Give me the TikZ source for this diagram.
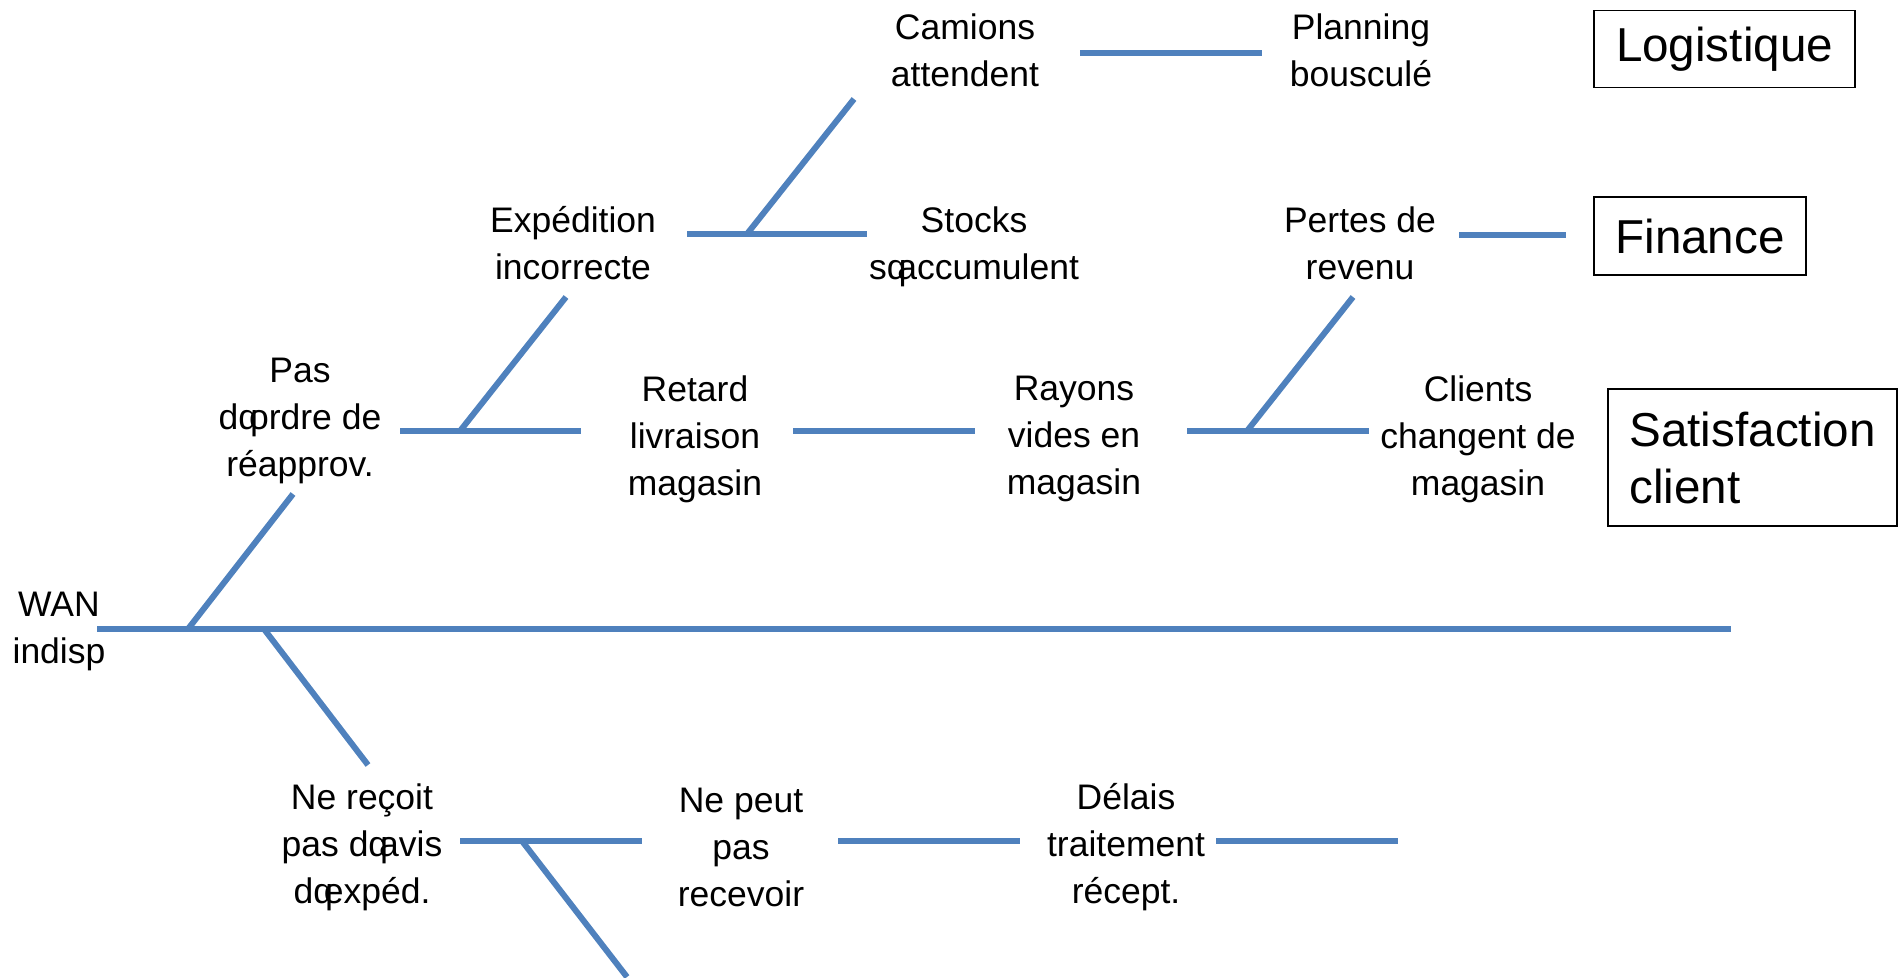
\documentclass[tikz,border=0pt]{standalone}
\usepackage{fontspec}
\setmainfont{Liberation Sans}
\definecolor{boneblue}{HTML}{4F81BD}
\usetikzlibrary{positioning}
% the broken apostrophe glyph of the source
\newcommand{\badq}{\makebox[0.3em][l]{q}}

\begin{document}
\begin{tikzpicture}[x=0.5pt, y=-0.5pt,
  bone/.style={line width=3pt, boneblue},
  cause/.style={align=center, inner sep=0pt, font=\fontsize{17.75}{23.5}\selectfont},
  effect/.style={draw, line width=0.8pt, inner sep=0pt, font=\fontsize{23.8}{28.5}\selectfont}]
  \useasboundingbox (0,0) rectangle (1899,978);

  % causes
  \node[cause] (wan) at (59,631) {WAN\\indisp};
  \node[cause] (pas) at (300,421) {Pas\\d\badq ordre de\\réapprov.};
  \node[cause] (exped) at (573,243) {Expédition\\incorrecte};
  \node[cause] (camions) at (965,50) {Camions\\attendent};
  \node[cause] (planning) at (1361,50) {Planning\\bousculé};
  \node[cause] (stocks) at (974,247) {Stocks\\s\badq accumulent};
  \node[cause] (retard) at (695,439) {Retard\\livraison\\magasin};
  \node[cause] (rayons) at (1074,439) {Rayons\\vides en\\magasin};
  \node[cause] (pertes) at (1360,243) {Pertes de\\revenu};
  \node[cause] (clients) at (1478,439) {Clients\\changent de\\magasin};
  \node[cause] (recoit) at (362,847) {Ne reçoit\\pas d\badq avis\\d\badq expéd.};
  \node[cause] (peut) at (741,847) {Ne peut\\pas\\recevoir};
  \node[cause] (delais) at (1126,847) {Délais\\traitement\\récept.};

  % effects
  \node[effect, minimum width=130.5pt, minimum height=38.5pt] (logistique) at (1724.5,49) {Logistique};
  \node[effect, minimum width=106pt, minimum height=39pt] (finance) at (1700,236) {Finance};
  \node[effect, minimum width=144.5pt, minimum height=68.5pt, align=left] (satisf) at (1752.5,457.5) {Satisfaction\\client};

  % bone ends
  \coordinate (spineA) at (97,629);
  \coordinate (spineB) at (1731,629);
  \coordinate (jpas) at (188,629);
  \coordinate (tpas) at (293,494);
  \coordinate (jrecoit) at (264,629);
  \coordinate (trecoit) at (368,765);
  \coordinate (pasR) at (400,431);
  \coordinate (retardL) at (581,431);
  \coordinate (jexped) at (460,431);
  \coordinate (texped) at (566,297);
  \coordinate (expedR) at (687,234);
  \coordinate (stocksL) at (867,234);
  \coordinate (jcamions) at (747,234);
  \coordinate (tcamions) at (854,99);
  \coordinate (camionsR) at (1080,53);
  \coordinate (planningL) at (1262,53);
  \coordinate (retardR) at (793,431);
  \coordinate (rayonsL) at (975,431);
  \coordinate (rayonsR) at (1187,431);
  \coordinate (clientsL) at (1369,431);
  \coordinate (jpertes) at (1247,431);
  \coordinate (tpertes) at (1353,297);
  \coordinate (pertesR) at (1459,235);
  \coordinate (financeL) at (1566,235);
  \coordinate (recoitR) at (460,841);
  \coordinate (peutL) at (642,841);
  \coordinate (jdown) at (522,841);
  \coordinate (tdown) at (627,977);
  \coordinate (peutR) at (838,841);
  \coordinate (delaisL) at (1020,841);
  \coordinate (delaisR) at (1216,841);
  \coordinate (delaisEnd) at (1398,841);

  % bones
  \draw[bone] (spineA) -- (spineB);
  \draw[bone] (jpas) -- (tpas);
  \draw[bone] (jrecoit) -- (trecoit);
  \draw[bone] (pasR) -- (retardL);
  \draw[bone] (jexped) -- (texped);
  \draw[bone] (expedR) -- (stocksL);
  \draw[bone] (jcamions) -- (tcamions);
  \draw[bone] (camionsR) -- (planningL);
  \draw[bone] (retardR) -- (rayonsL);
  \draw[bone] (rayonsR) -- (clientsL);
  \draw[bone] (jpertes) -- (tpertes);
  \draw[bone] (pertesR) -- (financeL);
  \draw[bone] (recoitR) -- (peutL);
  \draw[bone] (jdown) -- (tdown);
  \draw[bone] (peutR) -- (delaisL);
  \draw[bone] (delaisR) -- (delaisEnd);
\end{tikzpicture}
\end{document}
